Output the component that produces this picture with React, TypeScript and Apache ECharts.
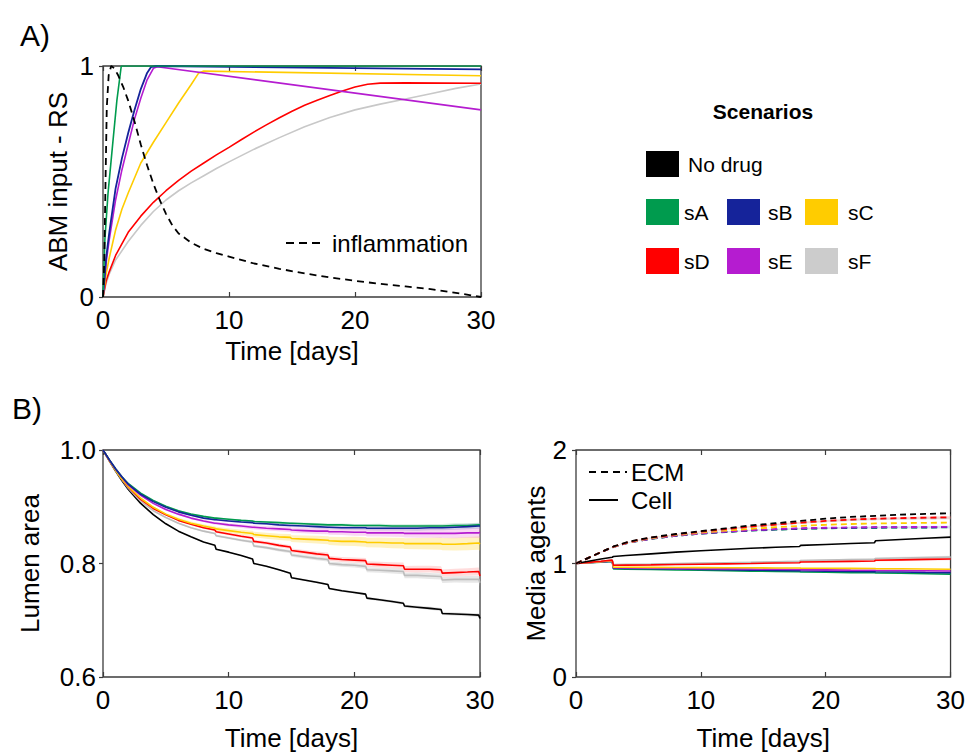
import React, { useEffect, useRef } from "react";
import * as echarts from "echarts";

// ---------- colours / names ----------
const SCEN = ["noDrug", "sA", "sB", "sC", "sD", "sE", "sF"];
const SCEN_LABEL = ["No drug", "sA", "sB", "sC", "sD", "sE", "sF"];
const COLORS: Record<string, string> = {
  noDrug: "#000000",
  sA: "#009B4E",
  sB: "#15239A",
  sC: "#FFCC00",
  sD: "#FF0000",
  sE: "#B51CD0",
  sF: "#CCCCCC",
};

// ---------- Panel A : ABM input - RS ----------
const A_T_sA = [0, 0.15, 0.4, 0.8, 1.1, 1.45, 30];
const A_V_sA = [0, 0.25, 0.45, 0.68, 0.85, 1.0, 1.0];
const A_T_sB = [0, 0.25, 0.5, 1, 1.5, 2, 2.5, 3, 3.5, 3.8, 4.2, 30];
const A_V_sB = [0, 0.17, 0.28, 0.47, 0.6, 0.71, 0.81, 0.9, 0.97, 0.995, 1.0, 0.985];
const A_T_sE = [0, 0.25, 0.5, 1, 1.5, 2, 2.5, 3, 3.5, 4, 4.3, 30];
const A_V_sE = [0, 0.15, 0.25, 0.42, 0.55, 0.66, 0.77, 0.86, 0.94, 0.99, 0.997, 0.81];
const A_T_sC = [0, 0.25, 0.5, 1, 1.5, 2, 3, 4, 5, 6, 7, 7.6, 8, 30];
const A_V_sC = [0, 0.1, 0.17, 0.29, 0.38, 0.45, 0.58, 0.67, 0.755, 0.84, 0.92, 0.97, 0.978, 0.958];
const A_T_sD = [0, 0.25, 0.5, 1, 2, 3, 4, 5, 6, 7, 8, 9, 10, 11, 12, 13, 14, 15, 16, 17, 18, 19, 20, 21, 22, 24, 30];
const A_V_sD = [0, 0.07, 0.11, 0.18, 0.28, 0.35, 0.41, 0.46, 0.505, 0.545, 0.58, 0.615, 0.648, 0.682, 0.715, 0.746, 0.776, 0.804, 0.83, 0.852, 0.872, 0.892, 0.909, 0.921, 0.926, 0.927, 0.925];
const A_T_sF = [0, 0.25, 0.5, 1, 2, 3, 4, 5, 6, 7, 8, 9, 10, 12, 14, 16, 18, 20, 22, 24, 26, 28, 30];
const A_V_sF = [0, 0.06, 0.1, 0.16, 0.24, 0.31, 0.37, 0.42, 0.46, 0.494, 0.525, 0.556, 0.585, 0.64, 0.69, 0.737, 0.777, 0.81, 0.835, 0.857, 0.88, 0.903, 0.922];
const A_T_INF = [0, 0.1, 0.2, 0.3, 0.45, 0.65, 0.9, 1.2, 1.6, 2, 2.5, 3, 3.5, 4, 4.5, 5, 5.5, 6, 7, 8, 9, 10, 12, 14, 16, 18, 20, 22, 24, 26, 28, 30];
const A_V_INF = [0, 0.15, 0.5, 0.82, 0.96, 1.0, 0.99, 0.96, 0.91, 0.85, 0.76, 0.66, 0.57, 0.49, 0.42, 0.36, 0.31, 0.275, 0.235, 0.208, 0.19, 0.175, 0.145, 0.122, 0.102, 0.085, 0.07, 0.057, 0.046, 0.034, 0.018, 0];

// ---------- Panel B left : Lumen area ----------
const BL_T = [0, 0.5, 1, 1.5, 2, 3, 4, 5, 6, 7, 8, 8.9, 9, 10, 11, 11.9, 12, 13, 14, 14.9, 15, 16, 17, 17.9, 18, 19, 20, 20.9, 21, 22, 23, 23.9, 24, 25, 26, 26.9, 27, 28, 29, 29.9, 30];
const BL_sA = [1.0, 0.983, 0.967, 0.953, 0.941, 0.924, 0.911, 0.901, 0.893, 0.887, 0.883, 0.88, 0.88, 0.878, 0.876, 0.875, 0.874, 0.873, 0.872, 0.871, 0.871, 0.87, 0.869, 0.868, 0.868, 0.868, 0.867, 0.867, 0.867, 0.867, 0.866, 0.866, 0.866, 0.866, 0.866, 0.866, 0.866, 0.867, 0.867, 0.868, 0.868];
const BL_sB = [1.0, 0.983, 0.967, 0.953, 0.94, 0.922, 0.909, 0.899, 0.891, 0.885, 0.88, 0.877, 0.877, 0.875, 0.873, 0.872, 0.871, 0.87, 0.868, 0.867, 0.867, 0.866, 0.865, 0.864, 0.864, 0.863, 0.863, 0.863, 0.862, 0.862, 0.862, 0.862, 0.862, 0.862, 0.863, 0.863, 0.863, 0.864, 0.865, 0.866, 0.866];
const BL_sE = [1.0, 0.982, 0.966, 0.952, 0.939, 0.92, 0.906, 0.895, 0.887, 0.88, 0.875, 0.871, 0.871, 0.868, 0.866, 0.864, 0.864, 0.862, 0.861, 0.86, 0.859, 0.858, 0.857, 0.857, 0.856, 0.856, 0.855, 0.855, 0.854, 0.854, 0.854, 0.854, 0.853, 0.853, 0.853, 0.853, 0.853, 0.853, 0.854, 0.854, 0.855];
const BL_sC = [1.0, 0.981, 0.964, 0.949, 0.936, 0.915, 0.899, 0.887, 0.878, 0.871, 0.866, 0.862, 0.861, 0.858, 0.855, 0.853, 0.851, 0.849, 0.847, 0.846, 0.844, 0.843, 0.842, 0.841, 0.84, 0.839, 0.839, 0.838, 0.837, 0.837, 0.836, 0.836, 0.835, 0.835, 0.835, 0.835, 0.834, 0.834, 0.835, 0.836, 0.834];
const BL_sD = [1.0, 0.982, 0.965, 0.949, 0.935, 0.913, 0.897, 0.886, 0.876, 0.869, 0.863, 0.859, 0.856, 0.852, 0.848, 0.845, 0.839, 0.836, 0.832, 0.829, 0.823, 0.82, 0.817, 0.815, 0.809, 0.807, 0.806, 0.805, 0.799, 0.798, 0.797, 0.796, 0.79, 0.79, 0.79, 0.789, 0.783, 0.784, 0.785, 0.786, 0.778];
const BL_sF = [1.0, 0.982, 0.964, 0.948, 0.933, 0.91, 0.893, 0.881, 0.871, 0.863, 0.857, 0.853, 0.849, 0.845, 0.841, 0.838, 0.831, 0.828, 0.824, 0.821, 0.815, 0.812, 0.809, 0.807, 0.8, 0.798, 0.797, 0.795, 0.789, 0.788, 0.787, 0.786, 0.779, 0.779, 0.778, 0.777, 0.771, 0.772, 0.772, 0.772, 0.766];
const BL_noDrug = [1.0, 0.981, 0.963, 0.946, 0.931, 0.906, 0.886, 0.87, 0.857, 0.847, 0.838, 0.832, 0.825, 0.82, 0.814, 0.808, 0.8, 0.795, 0.789, 0.783, 0.775, 0.771, 0.767, 0.763, 0.756, 0.752, 0.749, 0.746, 0.739, 0.736, 0.733, 0.73, 0.725, 0.723, 0.721, 0.719, 0.712, 0.711, 0.71, 0.709, 0.703];
// half-width of the shaded spread at day 30
const BL_BAND_END = { noDrug: 0.003, sA: 0.004, sB: 0.005, sC: 0.012, sD: 0.007, sE: 0.009, sF: 0.006 };

// ---------- Panel B right : Media agents ----------
const BR_T_CELL = [0, 1, 2, 2.9, 3, 4, 6, 8, 10, 12, 14, 16, 17.9, 18, 20, 22, 23.9, 24, 26, 28, 30];
const CELL_noDrug = [1.0, 1.02, 1.04, 1.055, 1.062, 1.07, 1.085, 1.1, 1.113, 1.124, 1.134, 1.143, 1.15, 1.16, 1.168, 1.176, 1.183, 1.2, 1.212, 1.223, 1.232];
const CELL_sD = [1.0, 1.01, 1.02, 1.03, 0.985, 0.986, 0.988, 0.991, 0.994, 0.997, 1.0, 1.004, 1.007, 1.013, 1.016, 1.019, 1.022, 1.028, 1.032, 1.036, 1.04];
const CELL_sF = [1.0, 1.01, 1.02, 1.03, 0.99, 0.992, 0.995, 0.999, 1.003, 1.007, 1.011, 1.016, 1.02, 1.026, 1.03, 1.034, 1.038, 1.044, 1.048, 1.052, 1.056];
const CELL_sC = [1.0, 1.008, 1.016, 1.024, 0.968, 0.967, 0.966, 0.965, 0.964, 0.963, 0.962, 0.961, 0.96, 0.959, 0.958, 0.957, 0.956, 0.955, 0.954, 0.952, 0.95];
const CELL_sE = [1.0, 1.008, 1.016, 1.022, 0.962, 0.961, 0.959, 0.957, 0.955, 0.953, 0.951, 0.949, 0.947, 0.946, 0.944, 0.942, 0.941, 0.94, 0.938, 0.936, 0.934];
const CELL_sB = [1.0, 1.007, 1.014, 1.02, 0.958, 0.957, 0.954, 0.951, 0.948, 0.945, 0.942, 0.939, 0.937, 0.936, 0.933, 0.93, 0.928, 0.927, 0.925, 0.922, 0.92];
const CELL_sA = [1.0, 1.006, 1.012, 1.018, 0.952, 0.95, 0.947, 0.943, 0.94, 0.937, 0.933, 0.93, 0.927, 0.926, 0.923, 0.92, 0.918, 0.917, 0.914, 0.91, 0.906];

const BR_T_ECM = [0, 1, 2, 3, 4, 5, 6, 8, 10, 12, 14, 16, 18, 20, 22, 24, 26, 28, 30];
const ECM_noDrug = [1, 1.05, 1.1, 1.15, 1.185, 1.21, 1.23, 1.26, 1.285, 1.31, 1.335, 1.355, 1.375, 1.395, 1.41, 1.42, 1.43, 1.437, 1.443];
const ECM_sD = [1, 1.05, 1.1, 1.148, 1.182, 1.207, 1.227, 1.256, 1.28, 1.303, 1.325, 1.343, 1.36, 1.375, 1.387, 1.395, 1.4, 1.404, 1.407];
const ECM_sF = [1, 1.05, 1.1, 1.148, 1.182, 1.206, 1.226, 1.255, 1.279, 1.302, 1.324, 1.342, 1.358, 1.372, 1.383, 1.39, 1.395, 1.398, 1.4];
const ECM_sC = [1, 1.05, 1.1, 1.147, 1.18, 1.204, 1.222, 1.25, 1.272, 1.29, 1.306, 1.32, 1.332, 1.341, 1.348, 1.353, 1.356, 1.358, 1.36];
const ECM_sE = [1, 1.05, 1.1, 1.146, 1.178, 1.2, 1.218, 1.245, 1.265, 1.28, 1.293, 1.303, 1.31, 1.315, 1.318, 1.32, 1.321, 1.322, 1.322];
const ECM_sB = [1, 1.05, 1.1, 1.146, 1.178, 1.2, 1.218, 1.244, 1.264, 1.279, 1.291, 1.3, 1.307, 1.312, 1.315, 1.317, 1.318, 1.319, 1.32];
const ECM_sA = [1, 1.05, 1.1, 1.146, 1.177, 1.199, 1.217, 1.243, 1.263, 1.277, 1.289, 1.298, 1.305, 1.31, 1.313, 1.315, 1.316, 1.317, 1.318];
const BR_BAND_END = 0.012;

// ---------- tick labels ----------
const X_TICKS = [0, 10, 20, 30];
const FONT = "Liberation Sans, Arial, Helvetica, sans-serif";

function pairs(t: number[], v: number[]) {
  return t.map((x, i) => [x, v[i]]);
}

function line(name: string, xi: number, yi: number, t: number[], v: number[], color: string, width: number, dash?: number[], z = 3) {
  return {
    name,
    type: "line",
    xAxisIndex: xi,
    yAxisIndex: yi,
    data: pairs(t, v),
    symbol: "none",
    showSymbol: false,
    silent: true,
    z,
    lineStyle: { color, width, type: dash ? dash : "solid" },
  };
}

function band(xi: number, yi: number, t: number[], v: number[], hwEnd: number, color: string, opacity: number) {
  const lo = t.map((x, i) => v[i] - (hwEnd * x) / 30);
  const hi = t.map((x, i) => v[i] + (hwEnd * x) / 30);
  return {
    type: "custom",
    coordinateSystem: "cartesian2d",
    xAxisIndex: xi,
    yAxisIndex: yi,
    silent: true,
    z: 1,
    data: t.map((x, i) => [x, lo[i], hi[i]]),
    encode: { x: 0, y: [1, 2] },
    renderItem: (params: any, api: any) => {
      if (params.dataIndex !== 0) return null;
      const pts: number[][] = [];
      for (let i = 0; i < t.length; i++) pts.push(api.coord([t[i], hi[i]]));
      for (let i = t.length - 1; i >= 0; i--) pts.push(api.coord([t[i], lo[i]]));
      return { type: "polygon", shape: { points: pts }, style: { fill: color, opacity } };
    },
  };
}

const GRIDS = [
  { left: 103, top: 66, width: 378, height: 231 },
  { left: 103, top: 450, width: 377, height: 227 },
  { left: 576, top: 450, width: 375, height: 227 },
];

export default function App() {
  const ref = useRef<HTMLDivElement>(null);
  useEffect(() => {
    if (!ref.current) return;
    const chart = echarts.init(ref.current, undefined, { renderer: "svg" });

    const tickFont = { fontSize: 26, color: "#000", fontFamily: FONT };
    const nameFont = { fontSize: 26, color: "#000", fontFamily: FONT };
    const frame = "#3c3c3c";

    const xAxes: any[] = [];
    const nameGaps = [41, 48, 48];
    GRIDS.forEach((g, gi) => {
      xAxes.push({
        type: "value",
        gridIndex: gi,
        min: 0,
        max: 30,
        interval: 10,
        position: "bottom",
        axisLine: { show: false },
        axisTick: { show: true, inside: true, length: 5, lineStyle: { color: frame, width: 1.2 } },
        axisLabel: { ...tickFont, margin: 10, formatter: (v: number) => (X_TICKS.includes(v) ? String(v) : "") },
        splitLine: { show: false },
        name: "Time [days]",
        nameLocation: "middle",
        nameGap: nameGaps[gi],
        nameTextStyle: nameFont,
      });
      xAxes.push({
        type: "value",
        gridIndex: gi,
        min: 0,
        max: 30,
        interval: 10,
        position: "top",
        axisLine: { show: false },
        axisTick: { show: true, inside: true, length: 5, lineStyle: { color: frame, width: 1.2 } },
        axisLabel: { show: false },
        splitLine: { show: false },
      });
    });

    const yCommon = {
      type: "value",
      axisLine: { show: false },
      axisTick: { show: true, inside: false, length: 4, lineStyle: { color: frame, width: 1.2 } },
      splitLine: { show: false },
      nameLocation: "middle",
      nameRotate: 90,
      nameTextStyle: nameFont,
    };
    const yAxes = [
      { ...yCommon, gridIndex: 0, min: 0, max: 1, interval: 1, name: "ABM input - RS", nameGap: 32, axisLabel: { ...tickFont, margin: 9 } },
      { ...yCommon, gridIndex: 1, min: 0.6, max: 1.0, interval: 0.2, name: "Lumen area", nameGap: 60, axisLabel: { ...tickFont, margin: 7, formatter: (v: number) => v.toFixed(1) } },
      { ...yCommon, gridIndex: 2, min: 0, max: 2, interval: 1, name: "Media agents", nameGap: 26, axisLabel: { ...tickFont, margin: 9 } },
    ];

    const series: any[] = [];
    // Panel A
    series.push(line("sF", 0, 0, A_T_sF, A_V_sF, "#c8c8c8", 1.6));
    series.push(line("sD", 0, 0, A_T_sD, A_V_sD, COLORS.sD, 1.6));
    series.push(line("sC", 0, 0, A_T_sC, A_V_sC, COLORS.sC, 1.6));
    series.push(line("sE", 0, 0, A_T_sE, A_V_sE, COLORS.sE, 1.6));
    series.push(line("sB", 0, 0, A_T_sB, A_V_sB, COLORS.sB, 1.8));
    series.push(line("sA", 0, 0, A_T_sA, A_V_sA, COLORS.sA, 1.6));
    series.push(line("inflammation", 0, 0, A_T_INF, A_V_INF, "#000", 1.8, [7, 5], 4));

    // Panel B left
    const blData: Record<string, number[]> = { noDrug: BL_noDrug, sA: BL_sA, sB: BL_sB, sC: BL_sC, sD: BL_sD, sE: BL_sE, sF: BL_sF };
    const blBandColor: Record<string, string> = { noDrug: "#999999", sA: "#7fcca5", sB: "#8a91cc", sC: "#ffd94d", sD: "#ff9a9a", sE: "#f08ce0", sF: "#bbbbbb" };
    ["noDrug", "sF", "sD", "sC", "sE", "sA", "sB"].forEach((k) => {
      series.push(band(2, 1, BL_T, blData[k], (BL_BAND_END as any)[k], blBandColor[k], 0.35));
    });
    ["noDrug", "sF", "sD", "sC", "sE", "sA", "sB"].forEach((k) => {
      series.push(line(k, 2, 1, BL_T, blData[k], k === "sF" ? "#bdbdbd" : COLORS[k], 1.6));
    });

    // Panel B right
    const cell: Record<string, number[]> = { noDrug: CELL_noDrug, sA: CELL_sA, sB: CELL_sB, sC: CELL_sC, sD: CELL_sD, sE: CELL_sE, sF: CELL_sF };
    const ecm: Record<string, number[]> = { noDrug: ECM_noDrug, sA: ECM_sA, sB: ECM_sB, sC: ECM_sC, sD: ECM_sD, sE: ECM_sE, sF: ECM_sF };
    ["sF", "sD", "sB"].forEach((k) => {
      series.push(band(4, 2, BR_T_ECM, ecm[k], BR_BAND_END, blBandColor[k], 0.3));
    });
    ["sF", "sD"].forEach((k) => {
      series.push(band(4, 2, BR_T_CELL, cell[k], BR_BAND_END, blBandColor[k], 0.3));
    });
    ["sA", "sB", "sE", "sC", "sF", "sD", "noDrug"].forEach((k) => {
      series.push(line("cell " + k, 4, 2, BR_T_CELL, cell[k], k === "sF" ? "#bdbdbd" : COLORS[k], 1.6));
    });
    ["sA", "sB", "sE", "sC", "sF", "sD", "noDrug"].forEach((k) => {
      series.push(line("ECM " + k, 4, 2, BR_T_ECM, ecm[k], k === "sF" ? "#bdbdbd" : COLORS[k], 1.8, [6, 4]));
    });

    // Graphic: panel tags, legends
    const graphic: any[] = [
      { type: "text", x: 20, y: 35, style: { text: "A)", fontSize: 30, fontFamily: FONT, fill: "#000", verticalAlign: "middle" } },
      { type: "text", x: 12, y: 408, style: { text: "B)", fontSize: 30, fontFamily: FONT, fill: "#000", verticalAlign: "middle" } },
      // inflammation legend
      { type: "line", shape: { x1: 286, y1: 243, x2: 324, y2: 243 }, style: { stroke: "#000", lineWidth: 2, lineDash: [8, 5] } },
      { type: "text", x: 332, y: 243, style: { text: "inflammation", fontSize: 24, fontFamily: FONT, fill: "#000", verticalAlign: "middle" } },
      // ECM / Cell legend
      { type: "line", shape: { x1: 589, y1: 472, x2: 627, y2: 472 }, style: { stroke: "#000", lineWidth: 2, lineDash: [7, 5] } },
      { type: "text", x: 631, y: 472, style: { text: "ECM", fontSize: 24, fontFamily: FONT, fill: "#000", verticalAlign: "middle" } },
      { type: "line", shape: { x1: 589, y1: 500, x2: 618, y2: 500 }, style: { stroke: "#000", lineWidth: 2 } },
      { type: "text", x: 631, y: 500, style: { text: "Cell", fontSize: 24, fontFamily: FONT, fill: "#000", verticalAlign: "middle" } },
      // Scenarios legend
      { type: "text", x: 763, y: 111, style: { text: "Scenarios", fontSize: 21, fontWeight: "bold", fontFamily: FONT, fill: "#000", align: "center", verticalAlign: "middle" } },
    ];
    const legendPos = [
      [646, 164, 688],
      [646, 212, 684],
      [727, 212, 768],
      [805, 212, 848],
      [646, 261, 684],
      [727, 261, 768],
      [805, 261, 848],
    ];
    SCEN.forEach((k, i) => {
      const [sx, cy, tx] = legendPos[i];
      graphic.push({ type: "rect", shape: { x: sx, y: cy - 13, width: 33, height: 26 }, style: { fill: COLORS[k] } });
      graphic.push({ type: "text", x: tx, y: cy, style: { text: SCEN_LABEL[i], fontSize: 21, fontFamily: FONT, fill: "#000", verticalAlign: "middle" } });
    });

    chart.setOption({
      animation: false,
      backgroundColor: "#fff",
      textStyle: { fontFamily: FONT },
      grid: GRIDS.map((g) => ({ ...g, show: true, borderColor: frame, borderWidth: 1.3, backgroundColor: "transparent" })),
      xAxis: xAxes,
      yAxis: yAxes,
      series,
      graphic,
    });
    return () => chart.dispose();
  }, []);

  return <div ref={ref} style={{ position: "fixed", left: 0, top: 0, width: 968, height: 755, background: "#fff" }} />;
}
